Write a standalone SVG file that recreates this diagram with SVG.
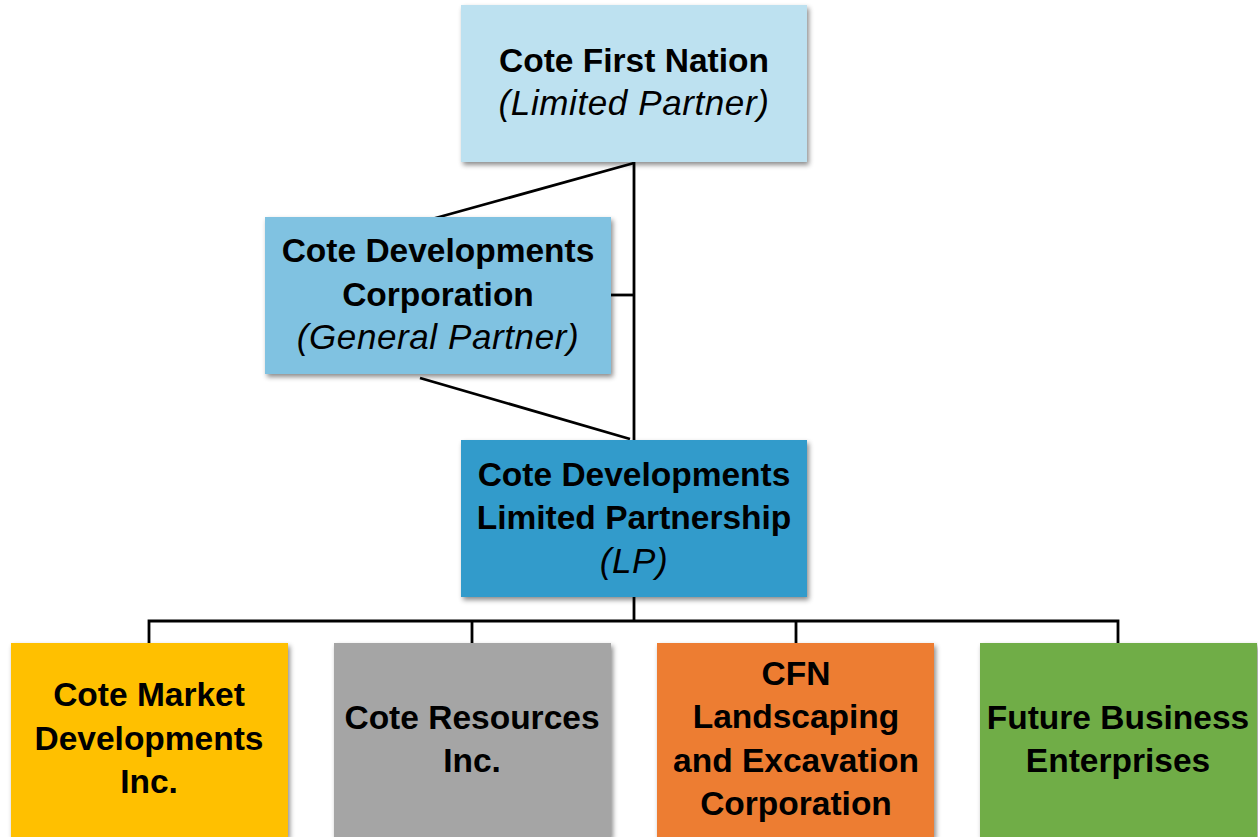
<svg xmlns="http://www.w3.org/2000/svg" width="1258" height="837" viewBox="0 0 1258 837">
  <style>
    .box { filter: url(#shadow); }
    .t { font-family: "Liberation Sans", Arial, sans-serif; font-size: 33.5px; font-weight: bold; fill: #000; text-anchor: middle; }
    .i { font-family: "Liberation Sans", Arial, sans-serif; font-size: 35px; font-style: italic; letter-spacing: 0.6px; fill: #000; text-anchor: middle; }
    .link { stroke: #000; stroke-width: 2.8; fill: none; }
  </style>
  <defs>
    <filter id="shadow" x="-10%" y="-10%" width="120%" height="130%">
      <feDropShadow dx="2" dy="3" stdDeviation="2.5" flood-color="#000" flood-opacity="0.45"/>
    </filter>
  </defs>
  <rect width="1258" height="837" fill="#fff"/>

  <g id="connectors">
    <line class="link" x1="634" y1="161" x2="634" y2="440"/>
    <line class="link" x1="634" y1="163" x2="432" y2="219"/>
    <line class="link" x1="611" y1="295" x2="634" y2="295"/>
    <line class="link" x1="420" y1="378" x2="630" y2="439"/>
    <line class="link" x1="634" y1="597" x2="634" y2="621"/>
    <polyline class="link" points="149,643 149,621 1118,621 1118,643"/>
    <line class="link" x1="472" y1="621" x2="472" y2="643"/>
    <line class="link" x1="796" y1="621" x2="796" y2="643"/>
  </g>

  <g id="cote-first-nation">
    <rect class="box" x="461" y="5" width="346" height="157" fill="#BDE1F0"/>
    <text class="t" x="634" y="72">Cote First Nation</text>
    <text class="i" x="634" y="115">(Limited Partner)</text>
  </g>

  <g id="general-partner">
    <rect class="box" x="265" y="217" width="346" height="157" fill="#80C2E1"/>
    <text class="t" x="438" y="262">Cote Developments</text>
    <text class="t" x="438" y="306">Corporation</text>
    <text class="i" x="438" y="349">(General Partner)</text>
  </g>

  <g id="limited-partnership">
    <rect class="box" x="461" y="440" width="346" height="157" fill="#339BCB"/>
    <text class="t" x="634" y="486">Cote Developments</text>
    <text class="t" x="634" y="529">Limited Partnership</text>
    <text class="i" x="634" y="573">(LP)</text>
  </g>

  <g id="market-developments">
    <rect class="box" x="11" y="643" width="277" height="194" fill="#FFC000"/>
    <text class="t" x="149" y="706">Cote Market</text>
    <text class="t" x="149" y="750">Developments</text>
    <text class="t" x="149" y="793">Inc.</text>
  </g>

  <g id="resources">
    <rect class="box" x="334" y="643" width="277" height="194" fill="#A5A5A5"/>
    <text class="t" x="472" y="729">Cote Resources</text>
    <text class="t" x="472" y="772">Inc.</text>
  </g>

  <g id="landscaping">
    <rect class="box" x="657" y="643" width="277" height="194" fill="#ED7D31"/>
    <text class="t" x="796" y="685">CFN</text>
    <text class="t" x="796" y="728">Landscaping</text>
    <text class="t" x="796" y="772">and Excavation</text>
    <text class="t" x="796" y="815">Corporation</text>
  </g>

  <g id="future-business">
    <rect class="box" x="980" y="643" width="277" height="194" fill="#70AD47"/>
    <text class="t" x="1118" y="729">Future Business</text>
    <text class="t" x="1118" y="772">Enterprises</text>
  </g>
</svg>
